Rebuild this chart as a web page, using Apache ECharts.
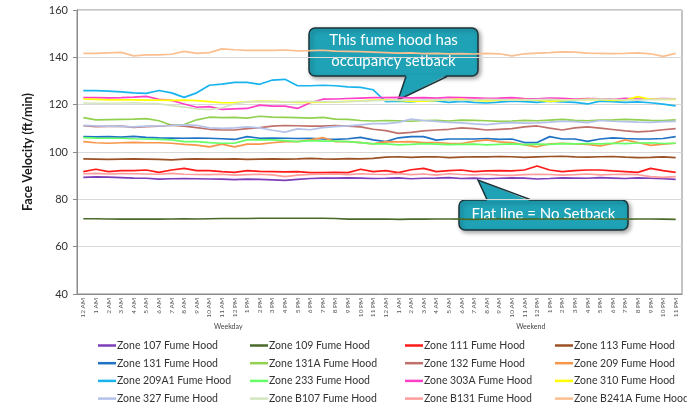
<!DOCTYPE html>
<html>
<head>
<meta charset="utf-8">
<script src="https://cdn.jsdelivr.net/npm/echarts@6/dist/echarts.min.js"></script>
<style>
  html, body { margin: 0; padding: 0; background: #fff; }
  #chart { width: 687px; height: 407px; }
</style>
</head>
<body>
<div id="chart"></div>
<script>
// hours of the day, shown twice (weekday then weekend)
const hours = ['12 AM', '1 AM', '2 AM', '3 AM', '4 AM', '5 AM', '6 AM', '7 AM', '8 AM', '9 AM', '10 AM', '11 AM',
  '12 PM', '1 PM', '2 PM', '3 PM', '4 PM', '5 PM', '6 PM', '7 PM', '8 PM', '9 PM', '10 PM', '11 PM']
const categories = hours.concat(hours)
const groups = ['Weekday', 'Weekend']
const yTicks = [40, 60, 80, 100, 120, 140, 160]

const zone107 = [89.3, 89.5, 89.4, 89.2, 89.0, 88.9, 88.5, 88.7, 88.8, 88.7, 88.6, 88.5, 88.3, 88.5, 88.4, 88.2, 88.0, 88.4, 88.8, 89.0, 89.0, 89.1, 89.0, 88.8,
  88.9, 89.1, 88.7, 88.9, 89.0, 89.2, 88.8, 89.0, 88.7, 88.9, 89.1, 89.0, 88.6, 88.8, 89.1, 89.0, 88.9, 89.2, 89.0, 88.8, 89.1, 88.9, 88.7, 88.4]
const zone109 = [71.8, 71.8, 71.7, 71.6, 71.7, 71.6, 71.6, 71.7, 71.8, 71.7, 71.8, 71.9, 71.9, 71.9, 72.0, 72.0, 72.0, 72.0, 72.0, 72.0, 71.9, 71.6, 71.7, 71.6,
  71.7, 71.5, 71.6, 71.6, 71.7, 71.7, 71.6, 71.5, 71.7, 71.8, 71.7, 71.6, 71.7, 71.7, 71.8, 71.7, 71.6, 71.7, 71.7, 71.6, 71.7, 71.7, 71.6, 71.5]
const zone111 = [91.7, 92.7, 91.7, 92.1, 92.1, 92.4, 91.4, 92.4, 93.1, 92.1, 92.1, 91.7, 91.4, 92.1, 91.8, 91.7, 91.6, 91.7, 91.3, 91.3, 91.4, 91.3, 92.7, 91.7,
  92.1, 91.3, 92.5, 93.1, 91.7, 92.1, 92.4, 91.7, 92.0, 92.1, 92.0, 92.4, 94.1, 92.4, 91.7, 92.1, 92.4, 92.4, 92.0, 91.7, 91.4, 93.1, 92.1, 91.4]
const zone113 = [97.1, 97.0, 96.9, 97.0, 97.1, 97.0, 96.9, 96.7, 97.0, 97.1, 97.0, 97.0, 97.1, 96.9, 97.0, 97.1, 97.0, 97.1, 97.3, 97.1, 97.0, 97.2, 97.1, 97.3,
  97.8, 98.0, 97.7, 97.9, 98.0, 97.6, 97.8, 98.0, 97.9, 98.1, 98.0, 97.7, 97.9, 98.1, 98.2, 97.9, 97.8, 98.0, 98.1, 97.8, 97.6, 97.7, 97.9, 97.6]
const zone131 = [106.5, 106.4, 106.5, 106.3, 106.6, 106.2, 106.0, 105.9, 105.8, 105.9, 105.8, 105.6, 105.3, 106.5, 105.8, 105.9, 105.8, 105.7, 105.8, 105.5, 105.3, 105.6, 106.2, 105.1,
  104.4, 106.0, 106.5, 106.5, 105.0, 105.5, 105.5, 105.5, 105.7, 105.3, 105.5, 104.0, 104.0, 106.5, 105.5, 105.5, 104.5, 105.5, 106.0, 105.7, 105.5, 105.5, 105.7, 106.5]
const zone131A = [114.5, 113.6, 113.7, 113.8, 113.9, 114.1, 113.2, 111.3, 111.6, 113.6, 114.7, 114.5, 114.6, 114.3, 115.1, 114.7, 114.6, 114.5, 114.3, 114.6, 113.9, 113.8, 113.3, 113.1,
  113.3, 113.2, 113.0, 113.3, 113.4, 113.1, 113.5, 113.4, 113.2, 112.9, 113.1, 113.4, 113.2, 113.5, 113.8, 113.4, 113.2, 113.5, 113.6, 113.8, 113.6, 113.4, 113.3, 113.6]
const zone132 = [111.1, 110.7, 110.8, 110.9, 110.4, 110.7, 110.9, 111.3, 110.9, 110.3, 109.6, 109.3, 109.3, 109.9, 110.3, 110.9, 111.2, 111.1, 110.9, 110.9, 111.2, 110.9, 110.6, 109.6,
  109.0, 107.9, 108.3, 108.9, 109.3, 109.6, 110.2, 109.9, 109.3, 109.6, 109.9, 110.6, 111.0, 110.1, 109.3, 110.2, 110.6, 110.1, 109.5, 108.9, 108.5, 108.8, 109.4, 109.9]
const zone209 = [104.4, 103.9, 103.7, 103.9, 104.1, 103.9, 103.9, 103.7, 103.2, 102.9, 102.2, 103.3, 102.2, 103.3, 103.3, 103.9, 104.4, 104.4, 105.1, 106.1, 104.4, 104.4, 104.0, 103.4,
  104.4, 104.3, 104.4, 104.0, 104.0, 103.7, 103.6, 104.5, 105.1, 104.3, 104.0, 103.0, 102.2, 103.4, 103.7, 103.4, 103.2, 102.6, 103.6, 105.1, 104.0, 102.8, 103.3, 103.7]
const zone209A1 = [125.9, 125.9, 125.7, 125.4, 125.0, 124.8, 126.0, 125.0, 123.1, 125.0, 128.2, 128.7, 129.4, 129.4, 128.6, 130.4, 130.7, 128.0, 128.0, 128.2, 128.0, 127.5, 127.3, 126.3,
  121.3, 121.5, 121.2, 121.8, 121.6, 121.0, 121.4, 121.0, 120.7, 121.1, 121.5, 121.3, 121.0, 121.5, 121.2, 121.0, 120.3, 121.5, 121.3, 121.0, 121.2, 120.8, 120.2, 119.5]
const zone233 = [106.1, 105.9, 105.8, 105.8, 105.6, 105.5, 105.3, 105.1, 104.4, 104.4, 104.0, 103.7, 103.7, 105.1, 105.1, 105.1, 104.8, 104.4, 104.8, 104.6, 104.6, 104.4, 104.0, 103.4,
  103.4, 103.0, 103.2, 103.5, 103.3, 103.1, 103.2, 103.3, 103.0, 103.2, 103.4, 103.1, 103.3, 103.2, 103.5, 103.4, 103.6, 103.4, 103.7, 103.5, 103.8, 103.9, 103.6, 103.7]
const zone303A = [123.0, 123.0, 122.9, 123.0, 123.2, 123.5, 122.3, 121.8, 120.3, 118.9, 119.2, 118.0, 118.2, 118.4, 119.8, 119.4, 119.4, 118.4, 120.8, 122.3, 122.4, 122.6, 122.8, 123.0,
  123.0, 123.1, 122.9, 123.0, 122.8, 123.1, 123.0, 122.9, 122.7, 122.8, 123.0, 122.6, 122.5, 122.8, 122.7, 122.4, 122.6, 122.5, 122.3, 122.7, 122.4, 122.3, 122.6, 122.5]
const zone310 = [122.4, 122.2, 122.0, 122.0, 122.0, 121.9, 121.9, 121.8, 121.9, 121.7, 121.3, 120.8, 120.9, 121.2, 121.5, 121.4, 121.2, 121.0, 121.0, 121.1, 121.2, 121.4, 121.6, 121.9,
  122.0, 121.8, 121.4, 121.5, 121.8, 122.1, 122.2, 121.8, 121.6, 121.9, 122.0, 122.1, 121.9, 121.4, 121.7, 122.0, 122.2, 122.1, 121.8, 121.9, 123.4, 122.3, 122.2, 122.2]
const zone327 = [111.3, 111.0, 110.9, 110.8, 110.6, 110.9, 111.0, 111.2, 111.5, 111.3, 110.2, 110.0, 110.2, 110.6, 110.2, 109.2, 108.4, 109.8, 109.4, 110.3, 110.7, 111.0, 111.5, 112.0,
  112.0, 112.5, 113.9, 113.3, 112.9, 112.5, 112.3, 111.9, 111.6, 112.1, 112.4, 112.2, 112.3, 112.6, 113.0, 112.8, 112.4, 113.3, 113.0, 112.8, 112.6, 112.5, 112.8, 112.9]
const zoneB107 = [120.7, 120.6, 120.6, 120.7, 120.8, 120.6, 120.4, 119.6, 119.0, 118.2, 117.9, 118.7, 120.3, 121.2, 121.4, 121.3, 121.2, 121.3, 121.4, 121.3, 121.2, 121.3, 121.5, 121.7,
  121.8, 121.9, 122.0, 121.9, 122.1, 122.0, 121.8, 122.0, 122.2, 122.1, 121.9, 122.0, 122.1, 122.2, 122.0, 121.9, 122.1, 122.3, 122.2, 122.0, 121.9, 122.1, 122.3, 122.4]
const zoneB131 = [90.8, 91.0, 90.7, 90.9, 90.8, 90.7, 90.6, 91.0, 90.6, 90.5, 90.4, 90.6, 90.2, 90.4, 90.6, 90.3, 89.6, 90.2, 90.5, 90.6, 90.7, 90.4, 90.8, 90.6,
  90.5, 90.9, 90.4, 90.7, 90.2, 90.8, 90.5, 90.3, 90.6, 90.2, 90.1, 90.4, 90.6, 90.5, 90.2, 90.4, 90.7, 90.3, 90.5, 90.6, 90.4, 89.6, 89.3, 89.6]
const zoneB241A = [141.7, 141.7, 141.9, 142.1, 140.6, 141.0, 141.0, 141.3, 142.5, 141.7, 142.0, 143.6, 143.2, 142.9, 142.9, 142.9, 143.1, 142.7, 142.8, 143.0, 142.6, 142.5, 142.4, 142.2,
  142.0, 141.8, 141.9, 141.6, 141.7, 141.5, 141.6, 141.4, 141.7, 141.5, 140.6, 141.5, 141.8, 142.0, 142.3, 142.2, 141.8, 141.7, 141.6, 141.7, 141.9, 141.5, 140.4, 141.7]

const zoneNames = ['Zone 107 Fume Hood', 'Zone 109 Fume Hood', 'Zone 111 Fume Hood', 'Zone 113 Fume Hood',
  'Zone 131 Fume Hood', 'Zone 131A Fume Hood', 'Zone 132 Fume Hood', 'Zone 209 Fume Hood',
  'Zone 209A1 Fume Hood', 'Zone 233 Fume Hood', 'Zone 303A Fume Hood', 'Zone 310 Fume Hood',
  'Zone 327 Fume Hood', 'Zone B107 Fume Hood', 'Zone B131 Fume Hood', 'Zone B241A Fume Hood']
const zoneData = [zone107, zone109, zone111, zone113, zone131, zone131A, zone132, zone209,
  zone209A1, zone233, zone303A, zone310, zone327, zoneB107, zoneB131, zoneB241A]
const zoneColors = ['#7d3fb8', '#4a6a2a', '#ff1a1a', '#9a5226', '#1f72c4', '#92d050', '#c0706a', '#f7964a',
  '#19b4ee', '#66ff66', '#ff3fc8', '#ffff00', '#b4c2ea', '#d4e6c0', '#ff9c9c', '#fbbf90']

const font = 'Lato, "Liberation Sans", sans-serif'

const chart = echarts.init(document.getElementById('chart'))

// legend in 4 columns, each column a vertical legend; thin rect icons act as line samples
const legendCols = [98, 250, 405, 555]
const legends = legendCols.map((left, c) => ({
  orient: 'vertical',
  left: left,
  top: 340,
  height: 66,
  padding: 0,
  icon: 'rect',
  itemWidth: 18,
  itemHeight: 2.5,
  itemGap: 6.7,
  textStyle: { fontSize: 10.5, color: '#333', fontFamily: font, padding: [0, 0, 0, -4] },
  data: zoneNames.filter((n, i) => i % 4 === c)
}))

function callout(box, tip, lines) {
  // rounded box plus pointer triangle
  const stroke = '#1d3539'
  const fill = '#1fa2b6'
  const els = [
    {
      type: 'rect',
      shape: { x: box[0], y: box[1], width: box[2], height: box[3], r: 6 },
      style: { fill: fill, stroke: stroke, lineWidth: 1.5, shadowBlur: 4, shadowOffsetX: 2, shadowOffsetY: 2, shadowColor: 'rgba(0,0,0,0.35)' }
    },
    {
      type: 'polygon',
      shape: { points: [tip[0], tip[1], tip[2]] },
      style: { fill: fill }
    },
    {
      type: 'polyline',
      shape: { points: [tip[3], tip[1], tip[4]] },
      style: { stroke: stroke, lineWidth: 1.5, fill: null }
    }
  ]
  lines.forEach((t, i) => {
    els.push({
      type: 'text',
      style: {
        text: t, x: box[0] + box[2] / 2, y: box[1] + box[3] / 2 + (i - (lines.length - 1) / 2) * 21 - 1,
        align: 'center', verticalAlign: 'middle', fill: '#fff', font: '15px ' + font
      }
    })
  })
  return { type: 'group', z: 100, children: els }
}

chart.setOption({
  backgroundColor: '#fff',
  animation: false,
  color: zoneColors,
  grid: {
    left: 77, right: 5, top: 10, bottom: 113,
    show: true, borderColor: '#8a8a8a', borderWidth: 1
  },
  legend: legends,
  xAxis: [
    {
      type: 'category',
      data: categories,
      boundaryGap: true,
      axisLine: { lineStyle: { color: '#8a8a8a' } },
      axisTick: { interval: 0, length: 22, lineStyle: { color: '#d4d4d4' } },
      axisLabel: { interval: 0, rotate: 90, fontSize: 6.5, color: '#555', margin: 4, fontFamily: font }
    },
    {
      type: 'category',
      data: groups,
      position: 'bottom',
      offset: 0,
      boundaryGap: true,
      axisLine: { show: false },
      axisTick: { length: 38, lineStyle: { color: '#d4d4d4' } },
      axisLabel: { fontSize: 7, color: '#444', margin: 29, fontFamily: font }
    }
  ],
  yAxis: {
    type: 'value',
    min: yTicks[0],
    max: yTicks[yTicks.length - 1],
    interval: 20,
    name: 'Face Velocity (ft/min)',
    nameLocation: 'middle',
    nameGap: 43,
    nameTextStyle: { fontSize: 12.5, fontWeight: 'bold', color: '#1a1a1a', fontFamily: font },
    axisLine: { show: true, lineStyle: { color: '#8a8a8a' } },
    axisTick: { show: true, length: 4, lineStyle: { color: '#8a8a8a' } },
    axisLabel: { fontSize: 11, color: '#333', margin: 9, fontFamily: font },
    splitLine: { lineStyle: { color: '#d9d9d9' } }
  },
  series: zoneNames.map((name, i) => ({
    name: name,
    type: 'line',
    xAxisIndex: 0,
    data: zoneData[i],
    symbol: 'none',
    lineStyle: { width: 1.7 },
    emphasis: { disabled: true }
  })),
  graphic: [
    callout([309, 28, 169, 48], [[406, 75], [398, 100], [447, 75], [406, 76.5], [447, 76.5]],
      ['This fume hood has', 'occupancy setback']),
    callout([459, 200, 169, 30], [[487, 201], [478, 180], [530, 201], [487, 199.5], [530, 199.5]],
      ['Flat line = No Setback'])
  ]
})
</script>
</body>
</html>
